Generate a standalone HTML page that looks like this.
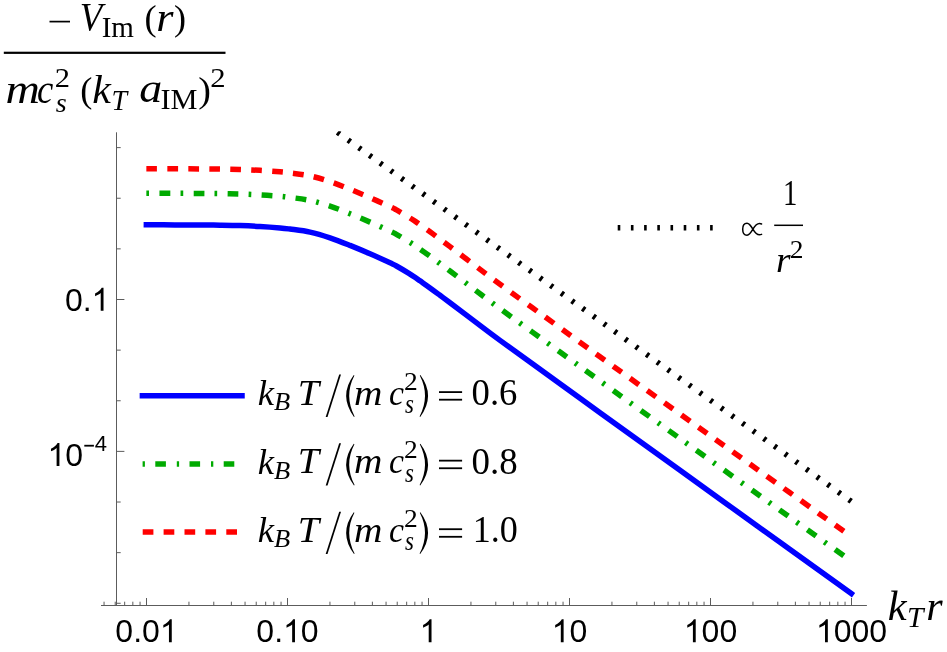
<!DOCTYPE html>
<html><head><meta charset="utf-8"><title>plot</title>
<style>html,body{margin:0;padding:0;background:#fff}svg{display:block;will-change:transform}</style>
</head><body>
<svg width="947" height="652" viewBox="0 0 947 652">
<g stroke="#5c5c5c" stroke-width="1" fill="none">
<line x1="101" y1="605.5" x2="866.9" y2="605.5"/>
<line x1="116.5" y1="132.3" x2="116.5" y2="605.5"/>
<line x1="104.05" y1="605.5" x2="104.05" y2="601.70"/>
<line x1="115.22" y1="605.5" x2="115.22" y2="601.70"/>
<line x1="124.66" y1="605.5" x2="124.66" y2="601.70"/>
<line x1="132.84" y1="605.5" x2="132.84" y2="601.70"/>
<line x1="140.05" y1="605.5" x2="140.05" y2="601.70"/>
<line x1="146.50" y1="605.5" x2="146.50" y2="598.00"/>
<line x1="188.95" y1="605.5" x2="188.95" y2="601.70"/>
<line x1="213.77" y1="605.5" x2="213.77" y2="601.70"/>
<line x1="231.39" y1="605.5" x2="231.39" y2="601.70"/>
<line x1="245.05" y1="605.5" x2="245.05" y2="601.70"/>
<line x1="256.22" y1="605.5" x2="256.22" y2="601.70"/>
<line x1="265.66" y1="605.5" x2="265.66" y2="601.70"/>
<line x1="273.84" y1="605.5" x2="273.84" y2="601.70"/>
<line x1="281.05" y1="605.5" x2="281.05" y2="601.70"/>
<line x1="287.50" y1="605.5" x2="287.50" y2="598.00"/>
<line x1="329.95" y1="605.5" x2="329.95" y2="601.70"/>
<line x1="354.77" y1="605.5" x2="354.77" y2="601.70"/>
<line x1="372.39" y1="605.5" x2="372.39" y2="601.70"/>
<line x1="386.05" y1="605.5" x2="386.05" y2="601.70"/>
<line x1="397.22" y1="605.5" x2="397.22" y2="601.70"/>
<line x1="406.66" y1="605.5" x2="406.66" y2="601.70"/>
<line x1="414.84" y1="605.5" x2="414.84" y2="601.70"/>
<line x1="422.05" y1="605.5" x2="422.05" y2="601.70"/>
<line x1="428.50" y1="605.5" x2="428.50" y2="598.00"/>
<line x1="470.95" y1="605.5" x2="470.95" y2="601.70"/>
<line x1="495.77" y1="605.5" x2="495.77" y2="601.70"/>
<line x1="513.39" y1="605.5" x2="513.39" y2="601.70"/>
<line x1="527.05" y1="605.5" x2="527.05" y2="601.70"/>
<line x1="538.22" y1="605.5" x2="538.22" y2="601.70"/>
<line x1="547.66" y1="605.5" x2="547.66" y2="601.70"/>
<line x1="555.84" y1="605.5" x2="555.84" y2="601.70"/>
<line x1="563.05" y1="605.5" x2="563.05" y2="601.70"/>
<line x1="569.50" y1="605.5" x2="569.50" y2="598.00"/>
<line x1="611.95" y1="605.5" x2="611.95" y2="601.70"/>
<line x1="636.77" y1="605.5" x2="636.77" y2="601.70"/>
<line x1="654.39" y1="605.5" x2="654.39" y2="601.70"/>
<line x1="668.05" y1="605.5" x2="668.05" y2="601.70"/>
<line x1="679.22" y1="605.5" x2="679.22" y2="601.70"/>
<line x1="688.66" y1="605.5" x2="688.66" y2="601.70"/>
<line x1="696.84" y1="605.5" x2="696.84" y2="601.70"/>
<line x1="704.05" y1="605.5" x2="704.05" y2="601.70"/>
<line x1="710.50" y1="605.5" x2="710.50" y2="598.00"/>
<line x1="752.95" y1="605.5" x2="752.95" y2="601.70"/>
<line x1="777.77" y1="605.5" x2="777.77" y2="601.70"/>
<line x1="795.39" y1="605.5" x2="795.39" y2="601.70"/>
<line x1="809.05" y1="605.5" x2="809.05" y2="601.70"/>
<line x1="820.22" y1="605.5" x2="820.22" y2="601.70"/>
<line x1="829.66" y1="605.5" x2="829.66" y2="601.70"/>
<line x1="837.84" y1="605.5" x2="837.84" y2="601.70"/>
<line x1="845.05" y1="605.5" x2="845.05" y2="601.70"/>
<line x1="851.50" y1="605.5" x2="851.50" y2="598.00"/>
<line x1="116.5" y1="603.28" x2="120.70" y2="603.28"/>
<line x1="116.5" y1="552.65" x2="120.70" y2="552.65"/>
<line x1="116.5" y1="502.02" x2="120.70" y2="502.02"/>
<line x1="116.5" y1="451.39" x2="124.40" y2="451.39"/>
<line x1="116.5" y1="400.76" x2="120.70" y2="400.76"/>
<line x1="116.5" y1="350.13" x2="120.70" y2="350.13"/>
<line x1="116.5" y1="299.50" x2="124.40" y2="299.50"/>
<line x1="116.5" y1="248.87" x2="120.70" y2="248.87"/>
<line x1="116.5" y1="198.24" x2="120.70" y2="198.24"/>
<line x1="116.5" y1="147.61" x2="120.70" y2="147.61"/>
</g>
<defs><clipPath id="cp"><rect x="100" y="131.3" width="780" height="480"/></clipPath></defs>
<g fill="none" stroke-width="5.5" clip-path="url(#cp)">
<path d="M146.35,224.80 C151.12,224.82 166.06,224.87 175.00,224.90 C183.94,224.93 192.50,224.95 200.00,225.00 C207.50,225.05 213.33,225.10 220.00,225.20 C226.67,225.30 233.33,225.39 240.00,225.60 C246.67,225.81 253.33,226.07 260.00,226.45 C266.67,226.83 275.00,227.47 280.00,227.90 C285.00,228.34 285.00,228.37 290.00,229.06 C295.00,229.75 303.33,230.61 310.00,232.07 C316.67,233.53 323.33,235.58 330.00,237.80 C336.67,240.02 343.33,242.73 350.00,245.40 C356.67,248.07 363.33,250.90 370.00,253.80 C376.67,256.70 385.67,260.81 390.00,262.80 C394.33,264.80 392.85,264.00 396.00,265.77 C399.15,267.54 405.57,271.36 408.90,273.40 C412.23,275.44 414.15,276.76 416.00,278.00 C417.85,279.24 417.67,279.20 420.00,280.85 C422.33,282.50 426.67,285.49 430.00,287.90 C433.33,290.31 436.67,292.82 440.00,295.30 C443.33,297.78 444.17,298.37 450.00,302.75 C455.83,307.13 466.67,315.33 475.00,321.60 C483.33,327.87 485.83,329.99 500.00,340.35 C514.17,350.71 543.33,371.69 560.00,383.75 C576.67,395.81 580.00,398.27 600.00,412.70 C620.00,427.12 650.00,448.70 680.00,470.30 C710.00,491.90 751.45,521.75 780.00,542.30 C808.55,562.85 839.42,585.05 851.30,593.60" stroke="#0000ff" stroke-linecap="square"/>
<path d="M146.35,193.25 C151.12,193.26 166.06,193.30 175.00,193.33 C183.94,193.36 192.50,193.37 200.00,193.42 C207.50,193.46 213.33,193.51 220.00,193.60 C226.67,193.70 233.33,193.79 240.00,193.99 C246.67,194.19 253.33,194.45 260.00,194.83 C266.67,195.21 275.00,195.83 280.00,196.26 C285.00,196.70 285.00,196.73 290.00,197.42 C295.00,198.11 303.33,198.96 310.00,200.41 C316.67,201.87 323.33,203.91 330.00,206.13 C336.67,208.35 343.33,211.06 350.00,213.72 C356.67,216.38 363.33,219.21 370.00,222.11 C376.67,225.00 385.67,229.11 390.00,231.10 C394.33,233.09 392.85,232.30 396.00,234.07 C399.15,235.84 405.57,239.66 408.90,241.70 C412.23,243.74 414.15,245.06 416.00,246.30 C417.85,247.54 417.67,247.50 420.00,249.15 C422.33,250.80 426.67,253.79 430.00,256.20 C433.33,258.60 436.67,261.12 440.00,263.60 C443.33,266.07 444.17,266.66 450.00,271.04 C455.83,275.43 466.67,283.63 475.00,289.89 C483.33,296.16 485.83,298.28 500.00,308.64 C514.17,319.00 543.33,339.98 560.00,352.04 C576.67,364.09 580.00,366.56 600.00,380.98 C620.00,395.40 650.00,417.02 680.00,438.56 C710.00,460.11 751.45,489.80 780.00,510.24 C808.55,530.68 839.42,552.71 851.30,561.20" stroke="#00aa00" stroke-dasharray="2.7 10.4 10.7 10.288" stroke-dashoffset="0"/>
<path d="M146.35,168.70 C151.12,168.72 166.06,168.76 175.00,168.79 C183.94,168.83 192.50,168.84 200.00,168.89 C207.50,168.94 213.33,168.99 220.00,169.08 C226.67,169.18 233.33,169.27 240.00,169.48 C246.67,169.69 253.33,169.94 260.00,170.33 C266.67,170.71 275.00,171.34 280.00,171.77 C285.00,172.21 285.00,172.24 290.00,172.93 C295.00,173.62 303.33,174.48 310.00,175.93 C316.67,177.39 323.33,179.44 330.00,181.66 C336.67,183.88 343.33,186.59 350.00,189.26 C356.67,191.92 363.33,194.75 370.00,197.65 C376.67,200.55 385.67,204.66 390.00,206.66 C394.33,208.66 392.85,207.87 396.00,209.63 C399.15,211.40 405.57,215.23 408.90,217.28 C412.23,219.32 414.15,220.64 416.00,221.88 C417.85,223.13 417.67,223.08 420.00,224.74 C422.33,226.39 426.67,229.38 430.00,231.80 C433.33,234.21 436.67,236.73 440.00,239.20 C443.33,241.68 444.17,242.27 450.00,246.66 C455.83,251.05 466.67,259.26 475.00,265.54 C483.33,271.81 485.83,273.94 500.00,284.31 C514.17,294.68 543.33,315.69 560.00,327.76 C576.67,339.84 580.00,342.37 600.00,356.75 C620.00,371.13 650.00,392.57 680.00,414.05 C710.00,435.53 751.45,465.21 780.00,485.64 C808.55,506.08 839.42,528.15 851.30,536.65" stroke="#ff0000" stroke-dasharray="10.7 10.278" stroke-dashoffset="0"/>
<path d="M851.23,501.35 L318.48,118.75" stroke="#000" stroke-dasharray="2.9 10.218"/>
</g>
<g fill="none" stroke-width="5.5">
<line x1="142.4" y1="395.7" x2="242.0" y2="395.7" stroke="#0000ff" stroke-linecap="square"/>
<line x1="142.6" y1="464.1" x2="242.0" y2="464.1" stroke="#00aa00" stroke-dasharray="2.3 10.4 10.6 10.9"/>
<line x1="142.7" y1="532.1" x2="242.0" y2="532.1" stroke="#ff0000" stroke-dasharray="10.7 10.2"/>
<line x1="617.7" y1="227.7" x2="714" y2="227.7" stroke="#000" stroke-dasharray="2.6 10.6"/>
</g>
<g font-family="Liberation Sans, sans-serif" font-size="32" fill="#000">
<text x="115.36 133.16 142.05" y="642.3" font-size="32">0.0</text>
<path transform="translate(159.84,642.3) scale(0.015625,-0.015625)" d="M763 0H583V1147Q518 1085 412.5 1023T223 930V1104Q374 1175 487 1276T647 1472H763V0Z"/>
<text x="256.36 274.16 300.84" y="642.3" font-size="32">0.0</text>
<path transform="translate(283.05,642.3) scale(0.015625,-0.015625)" d="M763 0H583V1147Q518 1085 412.5 1023T223 930V1104Q374 1175 487 1276T647 1472H763V0Z"/>
<path transform="translate(419.60,642.3) scale(0.015625,-0.015625)" d="M763 0H583V1147Q518 1085 412.5 1023T223 930V1104Q374 1175 487 1276T647 1472H763V0Z"/>
<text x="569.50" y="642.3" font-size="32">0</text>
<path transform="translate(551.70,642.3) scale(0.015625,-0.015625)" d="M763 0H583V1147Q518 1085 412.5 1023T223 930V1104Q374 1175 487 1276T647 1472H763V0Z"/>
<text x="701.60 719.40" y="642.3" font-size="32">00</text>
<path transform="translate(683.80,642.3) scale(0.015625,-0.015625)" d="M763 0H583V1147Q518 1085 412.5 1023T223 930V1104Q374 1175 487 1276T647 1472H763V0Z"/>
<text x="833.70 851.50 869.30" y="642.3" font-size="32">000</text>
<path transform="translate(815.91,642.3) scale(0.015625,-0.015625)" d="M763 0H583V1147Q518 1085 412.5 1023T223 930V1104Q374 1175 487 1276T647 1472H763V0Z"/>
<text x="64.92 82.71" y="310.8" font-size="32">0.</text>
<path transform="translate(91.60,310.8) scale(0.015625,-0.015625)" d="M763 0H583V1147Q518 1085 412.5 1023T223 930V1104Q374 1175 487 1276T647 1472H763V0Z"/>
<text x="65.30" y="465.9" font-size="32">0</text>
<path transform="translate(47.50,465.9) scale(0.015625,-0.015625)" d="M763 0H583V1147Q518 1085 412.5 1023T223 930V1104Q374 1175 487 1276T647 1472H763V0Z"/>
<text x="94.7" y="451" font-size="22">4</text>
<rect x="84.3" y="444.8" width="9.6" height="1.8"/>
</g>
<g font-family="Liberation Serif, serif" fill="#000" >
<text transform="translate(887.85,620.30) scale(1.000,1)" font-size="42.45" font-style="italic">k</text>
<text transform="translate(906.88,626.80) scale(1.000,1)" font-size="29.62" font-style="italic">T</text>
<text transform="translate(926.24,619.80) scale(1.000,1)" font-size="42.13" font-style="italic">r</text>
<text transform="translate(79.67,30.39) scale(0.910,1)" font-size="40.45" font-style="italic">V</text>
<text transform="translate(101.68,37.30) scale(1.007,1)" font-size="28.85">Im</text>
<text transform="translate(144.46,30.15) scale(1.012,1)" font-size="36.02">(</text>
<text transform="translate(156.23,31.30) scale(1.089,1)" font-size="40.64" font-style="italic">r</text>
<text transform="translate(173.93,30.15) scale(1.003,1)" font-size="36.02">)</text>
<text transform="translate(5.41,102.80) scale(1.160,1)" font-size="41.06" font-style="italic">m</text>
<text transform="translate(37.10,102.69) scale(0.900,1)" font-size="40.83" font-style="italic">c</text>
<text transform="translate(54.63,87.00) scale(1.123,1)" font-size="27.17">2</text>
<text transform="translate(55.65,112.02) scale(1.000,1)" font-size="28.12" font-style="italic">s</text>
<text transform="translate(80.16,101.65) scale(1.012,1)" font-size="36.02">(</text>
<text transform="translate(92.14,102.80) scale(1.036,1)" font-size="40.43" font-style="italic">k</text>
<text transform="translate(111.58,109.80) scale(0.950,1)" font-size="29.47" font-style="italic">T</text>
<text transform="translate(139.22,102.40) scale(1.144,1)" font-size="40.21" font-style="italic">a</text>
<text transform="translate(160.44,109.10) scale(1.068,1)" font-size="28.40">IM</text>
<text transform="translate(198.36,101.65) scale(1.057,1)" font-size="36.02">)</text>
<text transform="translate(210.22,87.20) scale(1.132,1)" font-size="27.17">2</text>
<text transform="translate(257.70,405.10) scale(1.033,1)" font-size="35.54" font-style="italic">k</text>
<text transform="translate(274.03,410.34) scale(1.071,1)" font-size="24.79" font-style="italic">B</text>
<text transform="translate(297.81,404.70) scale(1.060,1)" font-size="36.18" font-style="italic">T</text>
<text transform="translate(354.02,404.70) scale(1.108,1)" font-size="35.53" font-style="italic">m</text>
<text transform="translate(389.09,404.74) scale(0.948,1)" font-size="35.63" font-style="italic">c</text>
<text transform="translate(404.06,389.50) scale(1.132,1)" font-size="24.30">2</text>
<text transform="translate(405.01,413.33) scale(0.852,1)" font-size="26.88" font-style="italic">s</text>
<text transform="translate(471.62,405.03) scale(0.967,1)" font-size="37.94">0.6</text>
<text transform="translate(257.70,473.65) scale(1.033,1)" font-size="35.54" font-style="italic">k</text>
<text transform="translate(274.03,478.89) scale(1.071,1)" font-size="24.79" font-style="italic">B</text>
<text transform="translate(297.81,473.25) scale(1.060,1)" font-size="36.18" font-style="italic">T</text>
<text transform="translate(354.02,473.25) scale(1.108,1)" font-size="35.53" font-style="italic">m</text>
<text transform="translate(389.09,473.29) scale(0.948,1)" font-size="35.63" font-style="italic">c</text>
<text transform="translate(404.06,458.05) scale(1.132,1)" font-size="24.30">2</text>
<text transform="translate(405.01,481.88) scale(0.852,1)" font-size="26.88" font-style="italic">s</text>
<text transform="translate(471.61,473.58) scale(0.974,1)" font-size="37.94">0.8</text>
<text transform="translate(257.70,542.20) scale(1.033,1)" font-size="35.54" font-style="italic">k</text>
<text transform="translate(274.03,547.44) scale(1.071,1)" font-size="24.79" font-style="italic">B</text>
<text transform="translate(297.81,541.80) scale(1.060,1)" font-size="36.18" font-style="italic">T</text>
<text transform="translate(354.02,541.80) scale(1.108,1)" font-size="35.53" font-style="italic">m</text>
<text transform="translate(389.09,541.84) scale(0.948,1)" font-size="35.62" font-style="italic">c</text>
<text transform="translate(404.06,526.60) scale(1.132,1)" font-size="24.30">2</text>
<text transform="translate(405.01,550.43) scale(0.852,1)" font-size="26.87" font-style="italic">s</text>
<text transform="translate(472.64,542.13) scale(0.951,1)" font-size="37.94">1.0</text>
<text transform="translate(783.12,204.90) scale(0.800,1)" font-size="35.91">1</text>
<text transform="translate(776.00,271.80) scale(1.041,1)" font-size="35.96" font-style="italic">r</text>
<text transform="translate(789.86,257.60) scale(1.104,1)" font-size="24.91">2</text>
</g>
<g fill="#000" stroke="none">
<rect x="3.8" y="51.7" width="221.7" height="2.2"/>
<rect x="49.5" y="20.75" width="20.5" height="1.7"/>
<rect x="774.2" y="224.55" width="28.8" height="1.5"/>
<polygon points="339.2,374.60 341.0,374.60 327.5,416.90 325.7,416.90"/>
<path d="M353.8,375.10 Q338.4,395.90 354.0,417.00 L354.6,416.50 Q343.9,395.90 354.4,375.60 Z"/>
<path d="M420.40,375.10 Q435.80,395.90 420.20,417.00 L419.60,416.50 Q430.30,395.90 419.80,375.60 Z"/>
<rect x="439" y="391.20" width="23.1" height="1.8"/>
<rect x="439" y="398.80" width="23.1" height="1.8"/>
<polygon points="339.2,443.15 341.0,443.15 327.5,485.45 325.7,485.45"/>
<path d="M353.8,443.65 Q338.4,464.45 354.0,485.55 L354.6,485.05 Q343.9,464.45 354.4,444.15 Z"/>
<path d="M420.40,443.65 Q435.80,464.45 420.20,485.55 L419.60,485.05 Q430.30,464.45 419.80,444.15 Z"/>
<rect x="439" y="459.75" width="23.1" height="1.8"/>
<rect x="439" y="467.35" width="23.1" height="1.8"/>
<polygon points="339.2,511.70 341.0,511.70 327.5,554.00 325.7,554.00"/>
<path d="M353.8,512.20 Q338.4,533.00 354.0,554.10 L354.6,553.60 Q343.9,533.00 354.4,512.70 Z"/>
<path d="M420.40,512.20 Q435.80,533.00 420.20,554.10 L419.60,553.60 Q430.30,533.00 419.80,512.70 Z"/>
<rect x="439" y="528.30" width="23.1" height="1.8"/>
<rect x="439" y="535.90" width="23.1" height="1.8"/>
</g>
<path d="M761.6,224.0 C757.5,222.3 755,225.5 752.9,229.2 C750.8,233 749.5,235.2 747,235.2 C744,235.2 742.7,232.5 742.7,229.2 C742.7,226 744,223.2 747,223.2 C749.5,223.2 750.8,225.5 752.9,229.2 C755,233 757.5,236.1 761.6,234.4" fill="none" stroke="#000" stroke-width="1.5" stroke-linecap="round"/>
</svg>
</body></html>
